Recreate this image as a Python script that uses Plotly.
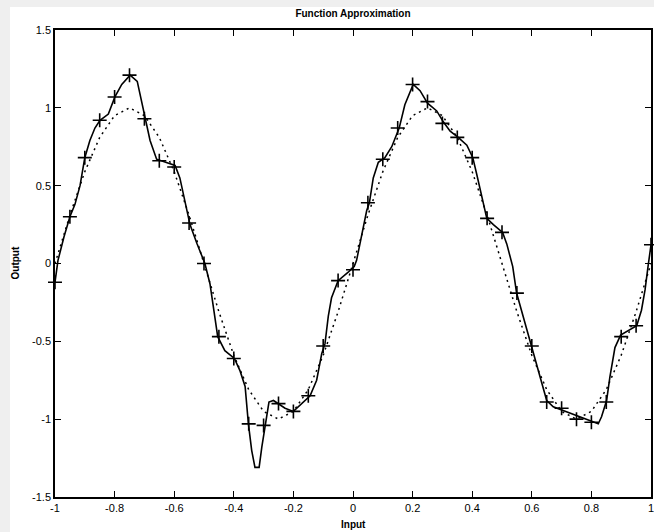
import plotly.graph_objects as go

# Training points (+)
pts_x = [-1.00, -0.95, -0.90, -0.85, -0.80, -0.75, -0.70, -0.65, -0.60, -0.55,
         -0.50, -0.45, -0.40, -0.35, -0.30, -0.25, -0.20, -0.15, -0.10, -0.05,
         0.00, 0.05, 0.10, 0.15, 0.20, 0.25, 0.30, 0.35, 0.40, 0.45,
         0.50, 0.55, 0.60, 0.65, 0.70, 0.75, 0.80, 0.85, 0.90, 0.95, 1.00]
pts_y = [-0.12, 0.30, 0.68, 0.92, 1.07, 1.21, 0.93, 0.66, 0.62, 0.26,
         0.00, -0.47, -0.61, -1.03, -1.04, -0.90, -0.95, -0.85, -0.53, -0.11,
         -0.04, 0.39, 0.67, 0.87, 1.15, 1.04, 0.90, 0.81, 0.68, 0.29,
         0.20, -0.19, -0.53, -0.89, -0.93, -1.00, -1.02, -0.89, -0.47, -0.40, 0.12]

# Target function (dotted)
target_y = [0.00, 0.31, 0.59, 0.81, 0.95, 1.00, 0.95, 0.81, 0.59, 0.31,
            0.00, -0.31, -0.59, -0.81, -0.95, -1.00, -0.95, -0.81, -0.59, -0.31,
            0.00, 0.31, 0.59, 0.81, 0.95, 1.00, 0.95, 0.81, 0.59, 0.31,
            0.00, -0.31, -0.59, -0.81, -0.95, -1.00, -0.95, -0.81, -0.59, -0.31, 0.00]

# Network output (solid)
net_x = [-1.000, -0.990, -0.970, -0.950, -0.933, -0.916, -0.900, -0.883, -0.866, -0.849,
         -0.821, -0.799, -0.776, -0.748, -0.724, -0.698, -0.681, -0.659, -0.631, -0.597,
         -0.581, -0.564, -0.547, -0.524, -0.497, -0.480, -0.469, -0.454, -0.430, -0.398,
         -0.379, -0.362, -0.351, -0.340, -0.329, -0.315, -0.306, -0.295, -0.282, -0.267,
         -0.250, -0.228, -0.200, -0.172, -0.144, -0.122, -0.105, -0.094, -0.083, -0.072,
         -0.050, -0.016, 0.004, 0.012, 0.029, 0.046, 0.055, 0.068, 0.085, 0.107,
         0.130, 0.155, 0.174, 0.202, 0.225, 0.250, 0.281, 0.303, 0.326, 0.353,
         0.382, 0.402, 0.415, 0.432, 0.449, 0.471, 0.502, 0.516, 0.536, 0.549,
         0.571, 0.600, 0.628, 0.650, 0.672, 0.700, 0.728, 0.756, 0.784, 0.807,
         0.823, 0.834, 0.851, 0.862, 0.879, 0.898, 0.924, 0.952, 0.968, 0.980,
         0.990, 1.000]
net_y = [-0.12, 0.02, 0.17, 0.30, 0.38, 0.50, 0.68, 0.79, 0.87, 0.92,
         0.96, 1.07, 1.15, 1.21, 1.17, 0.94, 0.79, 0.67, 0.65, 0.63,
         0.55, 0.40, 0.25, 0.13, 0.00, -0.13, -0.28, -0.47, -0.56, -0.61,
         -0.69, -0.79, -1.03, -1.20, -1.31, -1.31, -1.18, -1.04, -0.89, -0.88,
         -0.90, -0.93, -0.95, -0.90, -0.85, -0.75, -0.58, -0.515, -0.34, -0.22,
         -0.11, -0.056, -0.02, 0.02, 0.17, 0.34, 0.39, 0.55, 0.65, 0.68,
         0.75, 0.87, 1.02, 1.15, 1.11, 1.03, 0.98, 0.91, 0.85, 0.81,
         0.76, 0.68, 0.575, 0.425, 0.29, 0.25, 0.20, 0.126, -0.02, -0.19,
         -0.34, -0.53, -0.73, -0.88, -0.92, -0.94, -0.96, -0.985, -1.00, -1.02,
         -1.03, -0.985, -0.88, -0.73, -0.54, -0.46, -0.43, -0.40, -0.30, -0.17,
         -0.02, 0.12]

x_ticks = [-1, -0.8, -0.6, -0.4, -0.2, 0, 0.2, 0.4, 0.6, 0.8, 1]
x_tick_text = ["-1", "-0.8", "-0.6", "-0.4", "-0.2", "0", "0.2", "0.4", "0.6", "0.8", "1"]
y_ticks = [-1.5, -1, -0.5, 0, 0.5, 1, 1.5]
y_tick_text = ["-1.5", "-1", "-0.5", "0", "0.5", "1", "1.5"]

fig = go.Figure()
fig.add_trace(go.Scatter(x=pts_x, y=target_y, mode="lines",
                         line=dict(color="black", width=1.5, dash="2px,4px"),
                         showlegend=False))
fig.add_trace(go.Scatter(x=net_x, y=net_y, mode="lines",
                         line=dict(color="black", width=1.6),
                         showlegend=False))
fig.add_trace(go.Scatter(x=pts_x, y=pts_y, mode="markers",
                         marker=dict(symbol="cross-thin", size=10,
                                     line=dict(color="black", width=1.6)),
                         showlegend=False, cliponaxis=False))

L, R, T, B = 55, 3, 30, 35
W, H = 654, 532
pw, ph = W - L - R, H - T - B

font_title = dict(family="Liberation Sans", size=10, color="black")
axis_common = dict(showgrid=False, zeroline=False, showline=True, linecolor="black",
                   linewidth=1.5, mirror="ticks", ticks="inside", ticklen=6,
                   tickwidth=1.2, tickcolor="black", automargin=False,
                   ticklabeloverflow="allow",
                   tickfont=dict(family="Liberation Sans", size=11, color="black"))

fig.update_layout(
    width=W, height=H,
    margin=dict(l=L, r=R, t=T, b=B, autoexpand=False),
    paper_bgcolor="white", plot_bgcolor="white",
    title=dict(text="<b>Function Approximation</b>", x=(L + pw / 2) / W, xanchor="center",
               y=1 - 13 / H, yanchor="middle", font=font_title),
    xaxis=dict(range=[-1, 1], tickvals=x_ticks, ticktext=x_tick_text, **axis_common),
    yaxis=dict(range=[-1.5, 1.5], tickvals=y_ticks, ticktext=y_tick_text, **axis_common),
    annotations=[
        dict(text="<b>Input</b>", xref="paper", yref="paper", x=0.5, y=-(524 - (H - B)) / ph,
             xanchor="center", yanchor="middle", showarrow=False, font=font_title),
        dict(text="<b>Output</b>", xref="paper", yref="paper", x=-(L - 15) / pw, y=0.5,
             xanchor="center", yanchor="middle", showarrow=False, textangle=-90,
             font=font_title),
    ],
    shapes=[
        dict(type="rect", xref="paper", yref="paper", layer="below",
             x0=-L / pw, x1=(W - L) / pw, y0=1 + (T - 7) / ph, y1=1 + T / ph,
             fillcolor="#efefef", line=dict(width=0)),
        dict(type="rect", xref="paper", yref="paper", layer="below",
             x0=-L / pw, x1=-(L - 10) / pw, y0=-B / ph, y1=1 + T / ph,
             fillcolor="#efefef", line=dict(width=0)),
    ],
)

fig.write_html("out.html", config={"displayModeBar": False},
               post_script="document.body.style.margin='0px';document.body.style.overflow='hidden';")
